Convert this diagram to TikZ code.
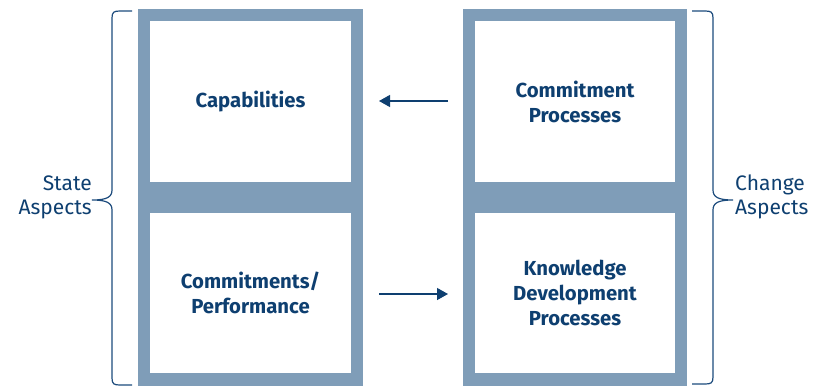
\documentclass[tikz,border=0pt]{standalone}
\usepackage{fontspec}
\setmainfont{Fira Sans}
\usetikzlibrary{arrows.meta}
\definecolor{barc}{HTML}{7F9DB8}
\definecolor{navy}{HTML}{0E3F70}
\definecolor{bracec}{HTML}{1C4B7C}
\tikzset{
  frame/.style={fill=barc, draw=none},
  cell/.style={fill=white, draw=none, inner sep=0pt, align=center, text=navy,
    font=\fontsize{20.3}{25}\selectfont\bfseries},
  side/.style={inner sep=0pt, text=navy, font=\fontsize{21}{24}\selectfont},
  conn/.style={draw=navy, line width=1.3pt, -{Triangle[length=11pt,width=12pt]}},
  bracel/.style={draw=bracec, line width=1.2pt}
}
\begin{document}
\begin{tikzpicture}[x=1pt,y=-1pt]
\useasboundingbox (0,0) rectangle (821,386);
% frames
\fill[frame] (138,9) rectangle (363,386);
\fill[frame] (463,9) rectangle (687,386);
% cells
\node[cell, minimum width=201pt, minimum height=161pt] (cap) at (250.5,101.5) {Capabilities};
\node[cell, minimum width=201pt, minimum height=160pt] (perf) at (250.5,293) {Commitments/\\Performance};
\node[cell, minimum width=200pt, minimum height=161pt] (cp) at (575,101.5) {Commitment\\Processes};
\node[cell, minimum width=200pt, minimum height=160pt] (kdp) at (575,293) {Knowledge\\Development\\Processes};
% arrows
\coordinate (a1s) at (448,101);
\coordinate (a1e) at (379,101);
\coordinate (a2s) at (379,294);
\coordinate (a2e) at (448,294);
\draw[conn] (a1s) -- (a1e);
\draw[conn] (a2s) -- (a2e);
% braces
\coordinate (lbt) at (132,11);
\coordinate (lbb) at (132,385);
\coordinate (lbtip) at (92,200);
\draw[bracel] (lbt) -- (120,11) .. controls (114,11) and (112,12) .. (112,18) -- (112,190)
  .. controls (112,197) and (107,200) .. (lbtip)
  .. controls (107,200) and (112,203) .. (112,210) -- (112,378)
  .. controls (112,384) and (114,385) .. (120,385) -- (lbb);
\coordinate (rbt) at (692,11);
\coordinate (rbb) at (692,384);
\coordinate (rbtip) at (733,200);
\draw[bracel] (rbt) -- (705,11) .. controls (711,11) and (713,12) .. (713,18) -- (713,190)
  .. controls (713,197) and (718,200) .. (rbtip)
  .. controls (718,200) and (713,203) .. (713,210) -- (713,377)
  .. controls (713,383) and (711,384) .. (705,384) -- (rbb);
\node[side, anchor=east, align=right] (sa) at (92,197) {State\\Aspects};
\node[side, anchor=west, align=left] (ca) at (735,197) {Change\\Aspects};
\end{tikzpicture}
\end{document}
